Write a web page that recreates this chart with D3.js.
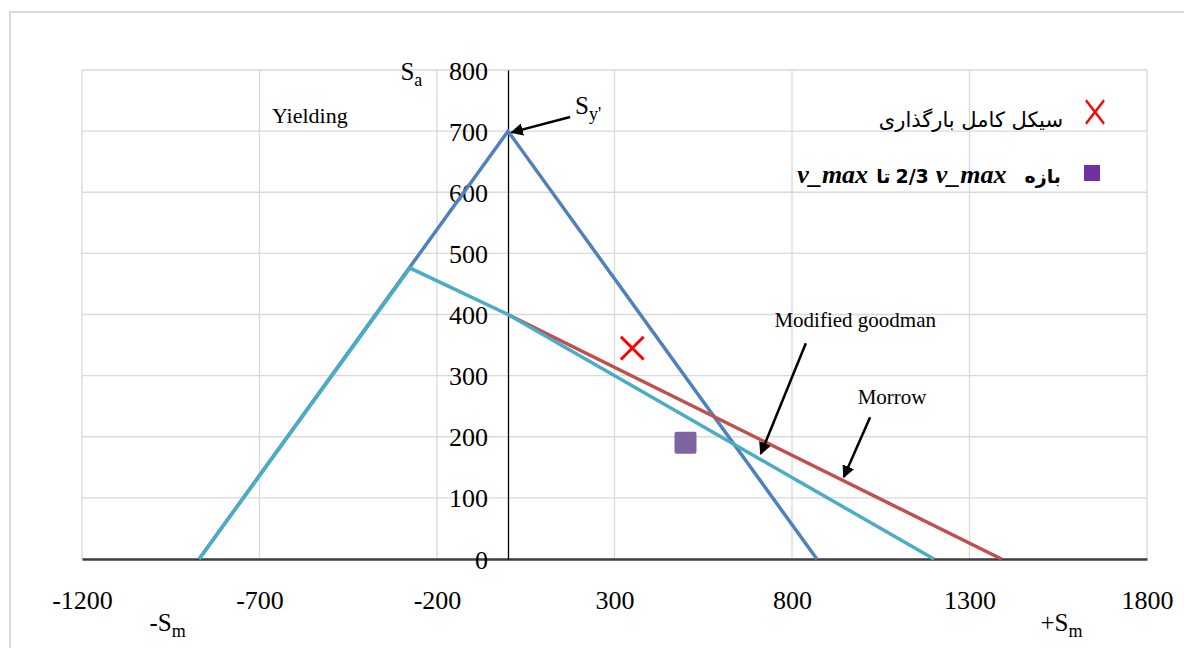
<!DOCTYPE html>
<html>
<head>
<meta charset="utf-8">
<script src="https://d3js.org/d3.v7.min.js"></script>
<style>
    body { margin: 0; background: #fff; }
    text { font-family: "Liberation Serif", "Times New Roman", serif; fill: #000; }
</style>
</head>
<body>
<svg id="drawing_region"></svg>
<script>
// tick values
const xTicks = [-1200, -700, -200, 300, 800, 1300, 1800];
const yTicks = [0, 100, 200, 300, 400, 500, 600, 700, 800];

// yield line (blue)
const yieldSm = [-870, 0, 870];
const yieldSa = [0, 700, 0];

// modified goodman (red)
const goodmanSm = [0, 1390];
const goodmanSa = [400, 0];

// morrow (cyan)
const morrowSm = [-870, -276, 0, 1200];
const morrowSa = [0, 476, 400, 0];

// load points
const fullCycle = [350, 345];
const vmaxRange = [500, 190];

var config = {
    parent: '#drawing_region',
    width: 1184,
    height: 648,
    margin: { top: 70, right: 37, bottom: 89, left: 82 }
};

const svg = d3.select(config.parent)
    .attr('width', config.width)
    .attr('height', config.height);

const inner_width = config.width - config.margin.left - config.margin.right;
const inner_height = config.height - config.margin.top - config.margin.bottom;

// outer chart frame
svg.append('rect')
    .attr('x', 10).attr('y', 12)
    .attr('width', 1200).attr('height', 700)
    .attr('fill', 'none')
    .attr('stroke', '#d9d9d9')
    .attr('stroke-width', 2);

const chart = svg.append('g')
    .attr('transform', `translate(${config.margin.left}, ${config.margin.top})`);

const xscale = d3.scaleLinear().domain([-1200, 1800]).range([0, inner_width]);
const yscale = d3.scaleLinear().domain([0, 800]).range([inner_height, 0]);

// grid
chart.append('g')
    .selectAll('line').data(xTicks).enter().append('line')
    .attr('x1', d => xscale(d)).attr('x2', d => xscale(d))
    .attr('y1', 0).attr('y2', inner_height)
    .attr('stroke', '#d9d9d9').attr('stroke-width', 1.3);

chart.append('g')
    .selectAll('line').data(yTicks).enter().append('line')
    .attr('x1', 0).attr('x2', inner_width)
    .attr('y1', d => yscale(d)).attr('y2', d => yscale(d))
    .attr('stroke', '#d9d9d9').attr('stroke-width', 1.3);

// x axis
const xaxis = d3.axisBottom(xscale).tickValues(xTicks).tickSize(0).tickFormat(d => String(d));
const xaxis_group = chart.append('g')
    .attr('transform', `translate(0, ${inner_height})`)
    .call(xaxis);
xaxis_group.select('.domain').attr('stroke', '#404040').attr('stroke-width', 2.5);
xaxis_group.selectAll('text')
    .attr('dy', 0).attr('y', 50)
    .style('font-size', '26px')
    .style('font-family', '"Liberation Serif", serif');

// y axis at Sm = 0
const yaxis = d3.axisLeft(yscale).tickValues(yTicks).tickSize(0).tickFormat(d => String(d));
const yaxis_group = chart.append('g')
    .attr('transform', `translate(${xscale(0)}, 0)`)
    .call(yaxis);
yaxis_group.select('.domain').attr('stroke', '#000').attr('stroke-width', 1.3);
yaxis_group.selectAll('text')
    .attr('x', -20).attr('dy', '0.35em')
    .style('font-size', '26px')
    .style('font-family', '"Liberation Serif", serif');

// lines
const line = d3.line().x(d => xscale(d[0])).y(d => yscale(d[1]));
const series = [
    { sm: yieldSm, sa: yieldSa, color: '#4f81bd' },
    { sm: goodmanSm, sa: goodmanSa, color: '#c0504d' },
    { sm: morrowSm, sa: morrowSa, color: '#4bacc6' }
];
series.forEach(s => {
    chart.append('path')
        .datum(d3.zip(s.sm, s.sa))
        .attr('d', line)
        .attr('fill', 'none')
        .attr('stroke', s.color)
        .attr('stroke-width', 3.5);
});

// markers
chart.append('path')
    .attr('d', d3.symbol(d3.symbolX, 340)())
    .attr('transform', `translate(${xscale(fullCycle[0])}, ${yscale(fullCycle[1])})`)
    .attr('stroke', '#ff0000').attr('stroke-width', 3).attr('fill', 'none');

chart.append('rect')
    .attr('x', xscale(vmaxRange[0]) - 11).attr('y', yscale(vmaxRange[1]) - 11)
    .attr('width', 22).attr('height', 22).attr('rx', 2)
    .attr('fill', '#8064a2');

// arrows
svg.append('defs').append('marker')
    .attr('id', 'head')
    .attr('viewBox', '0 0 10 10')
    .attr('refX', 9).attr('refY', 5)
    .attr('markerWidth', 5).attr('markerHeight', 5)
    .attr('markerUnits', 'strokeWidth')
    .attr('orient', 'auto')
    .append('path').attr('d', 'M0,0L10,5L0,10z').attr('fill', '#000');

const arrows = [
    [[175, 723], [10, 698]],
    [[839, 353], [712, 172]],
    [[1020, 232], [946, 134]]
];
arrows.forEach(a => {
    chart.append('line')
        .attr('x1', xscale(a[0][0])).attr('y1', yscale(a[0][1]))
        .attr('x2', xscale(a[1][0])).attr('y2', yscale(a[1][1]))
        .attr('stroke', '#000').attr('stroke-width', 2.5)
        .attr('marker-end', 'url(#head)');
});

// annotation text
function label(x, y, txt, size, anchor) {
    return chart.append('text')
        .attr('x', x).attr('y', y)
        .attr('text-anchor', anchor || 'start')
        .style('font-size', size + 'px')
        .text(txt);
}
function subLabel(x, y, main, sub, size) {
    const t = chart.append('text').attr('x', x).attr('y', y).style('font-size', size + 'px');
    t.append('tspan').text(main);
    t.append('tspan').attr('dy', 6).style('font-size', (size * 0.72) + 'px').text(sub);
    return t;
}

label(xscale(-665), yscale(714), 'Yielding', 22);
label(xscale(978), yscale(380), 'Modified goodman', 21, 'middle');
label(xscale(1082), yscale(254), 'Morrow', 21, 'middle');
subLabel(xscale(189), yscale(728), 'S', "y'", 25);
subLabel(xscale(-303), yscale(784), 'S', 'a', 25);
subLabel(xscale(-1010), inner_height + 72, '-S', 'm', 25);
subLabel(xscale(1500), inner_height + 72, '+S', 'm', 25);

// legend
const legend = svg.append('g');
legend.append('path')
    .attr('d', d3.symbol(d3.symbolX, 300)())
    .attr('transform', 'translate(1095, 112) scale(0.85, 1.1)')
    .attr('stroke', '#ff0000').attr('stroke-width', 2.5).attr('fill', 'none');
legend.append('text')
    .attr('x', 1063).attr('y', 127)
    .attr('text-anchor', 'end')
    .style('font-family', '"DejaVu Sans", sans-serif')
    .style('font-size', '21px')
    .text('سیکل کامل بارگذاری');

legend.append('rect')
    .attr('x', 1084).attr('y', 165)
    .attr('width', 16).attr('height', 16)
    .attr('fill', '#7030a0');

// second legend entry, placed piece by piece from the right
const pieces = [
    { t: 'بازه', f: '"DejaVu Sans", sans-serif', s: 'normal', gap: 18 },
    { t: 'v_max', f: '"Liberation Serif", serif', s: 'italic', gap: 7 },
    { t: '2/3', f: '"DejaVu Sans", sans-serif', s: 'normal', gap: 5 },
    { t: 'تا', f: '"DejaVu Sans", sans-serif', s: 'normal', gap: 8 },
    { t: 'v_max', f: '"Liberation Serif", serif', s: 'italic', gap: 0 }
];
let px = 1061;
pieces.forEach(p => {
    const t = legend.append('text')
        .attr('x', px).attr('y', 183)
        .attr('text-anchor', 'end')
        .style('font-family', p.f)
        .style('font-style', p.s)
        .style('font-weight', 'bold')
        .style('font-size', p.t === 'v_max' ? '26px' : '19px')
        .text(p.t);
    px -= t.node().getComputedTextLength() + p.gap;
});
</script>
</body>
</html>
